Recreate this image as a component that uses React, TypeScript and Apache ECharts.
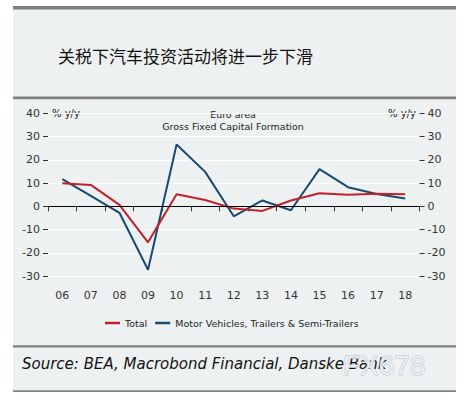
import React, { useEffect, useRef } from "react";
import * as echarts from "echarts";

const years = ["06", "07", "08", "09", "10", "11", "12", "13", "14", "15", "16", "17", "18"];
const totalSeries = [9.9, 9.2, 0.6, -15.5, 5.2, 2.7, -1.0, -2.0, 2.5, 5.6, 5.0, 5.4, 5.2];
const motorSeries = [11.7, 4.5, -2.8, -27.3, 26.6, 14.8, -4.3, 2.5, -1.7, 16.0, 8.2, 5.3, 3.3];
const yTicks = { min: -30, max: 40, interval: 10 };
const titleText = "关税下汽车投资活动将进一步下滑";
const chartTitle = "Euro area\nGross Fixed Capital Formation";
const unitLabel = "% y/y";
const sourceText = "Source: BEA, Macrobond Financial, Danske Bank";
const watermarkText = "FX678";
const seriesNames = ["Total", "Motor Vehicles, Trailers & Semi-Trailers"];

const RED = "#c0212b";
const BLUE = "#18496e";
const BG = "#eef1f2";
const BAR = "#7f7f7f";
const FONT = "DejaVu Sans";

export default function App() {
  const ref = useRef<HTMLDivElement>(null);
  useEffect(() => {
    if (!ref.current) return;
    const chart = echarts.init(ref.current, null, { renderer: "svg" });
    const axisLabel = { color: "#333", fontSize: 11, fontFamily: FONT };
    chart.setOption({
      animation: false,
      backgroundColor: "#ffffff",
      grid: { left: 48, right: 51.5, top: 113.3, bottom: 125 },
      legend: {
        left: 100,
        top: 313,
        itemWidth: 15,
        itemHeight: 2.5,
        itemGap: 8,
        icon: "rect",
        textStyle: { fontSize: 9.5, color: "#222", fontFamily: FONT },
        data: seriesNames,
      },
      xAxis: {
        type: "category",
        data: years,
        boundaryGap: true,
        offset: 7,
        axisLine: { show: false },
        axisTick: { show: true, length: 5, lineStyle: { color: "#333" } },
        axisLabel: { ...axisLabel, margin: 7 },
        splitLine: { show: false },
      },
      yAxis: [
        {
          type: "value",
          position: "left",
          ...yTicks,
          axisLine: { show: false },
          axisTick: { show: true, length: 5, lineStyle: { color: "#333" } },
          axisLabel: { ...axisLabel, margin: 8 },
          splitLine: { show: true, lineStyle: { color: "#ffffff", width: 1 } },
        },
        {
          type: "value",
          position: "right",
          ...yTicks,
          axisLine: { show: false },
          axisTick: { show: true, length: 5, lineStyle: { color: "#333" } },
          axisLabel: { ...axisLabel, margin: 8 },
          splitLine: { show: false },
        },
      ],
      series: [
        {
          name: seriesNames[0],
          type: "line",
          data: totalSeries,
          symbol: "none",
          lineStyle: { color: RED, width: 2 },
          itemStyle: { color: RED },
          z: 4,
          markLine: {
            silent: true,
            symbol: "none",
            label: { show: false },
            lineStyle: { color: "#000", width: 1, type: "solid" },
            data: [{ yAxis: 0 }],
          },
        },
        {
          name: seriesNames[1],
          type: "line",
          data: motorSeries,
          symbol: "none",
          lineStyle: { color: BLUE, width: 2 },
          itemStyle: { color: BLUE },
          z: 3,
        },
      ],
      graphic: [
        { type: "rect", z: -10, shape: { x: 13, y: 6, width: 443, height: 386 }, style: { fill: BG } },
        { type: "rect", z: -9, shape: { x: 13, y: 6, width: 443, height: 3.5 }, style: { fill: BAR } },
        { type: "rect", z: -9, shape: { x: 13, y: 96.5, width: 443, height: 2.7 }, style: { fill: BAR } },
        { type: "rect", z: -9, shape: { x: 13, y: 345.3, width: 443, height: 2.2 }, style: { fill: BAR } },
        { type: "rect", z: -9, shape: { x: 13, y: 390.3, width: 443, height: 1.7 }, style: { fill: BAR } },
        {
          type: "text",
          x: 58,
          y: 55,
          style: {
            text: titleText,
            fill: "#111",
            font: '17px "Noto Sans CJK SC"',
            textVerticalAlign: "middle",
          },
        },
        {
          type: "text",
          x: 233,
          y: 108,
          style: {
            text: chartTitle,
            fill: "#222",
            font: `9.5px "${FONT}"`,
            textAlign: "center",
            lineHeight: 12,
          },
        },
        {
          type: "text",
          x: 52,
          y: 113.5,
          style: { text: unitLabel, fill: "#222", font: `10px "${FONT}"`, textVerticalAlign: "middle" },
        },
        {
          type: "text",
          x: 416,
          y: 113.5,
          style: {
            text: unitLabel,
            fill: "#222",
            font: `10px "${FONT}"`,
            textAlign: "right",
            textVerticalAlign: "middle",
          },
        },
        {
          type: "text",
          x: 22,
          y: 364,
          style: {
            text: sourceText,
            fill: "#111",
            font: `italic 15px "${FONT}"`,
            textVerticalAlign: "middle",
          },
        },
        {
          type: "text",
          x: 343,
          y: 365,
          z: 10,
          style: {
            text: watermarkText,
            fill: "rgba(238,241,244,0.85)",
            stroke: "#b9c7d4",
            lineWidth: 1,
            font: '28px "Liberation Sans"',
            textVerticalAlign: "middle",
          },
        },
      ],
    });
    return () => chart.dispose();
  }, []);
  return (
    <div
      ref={ref}
      style={{ position: "fixed", left: 0, top: 0, width: 471, height: 401 }}
    />
  );
}
